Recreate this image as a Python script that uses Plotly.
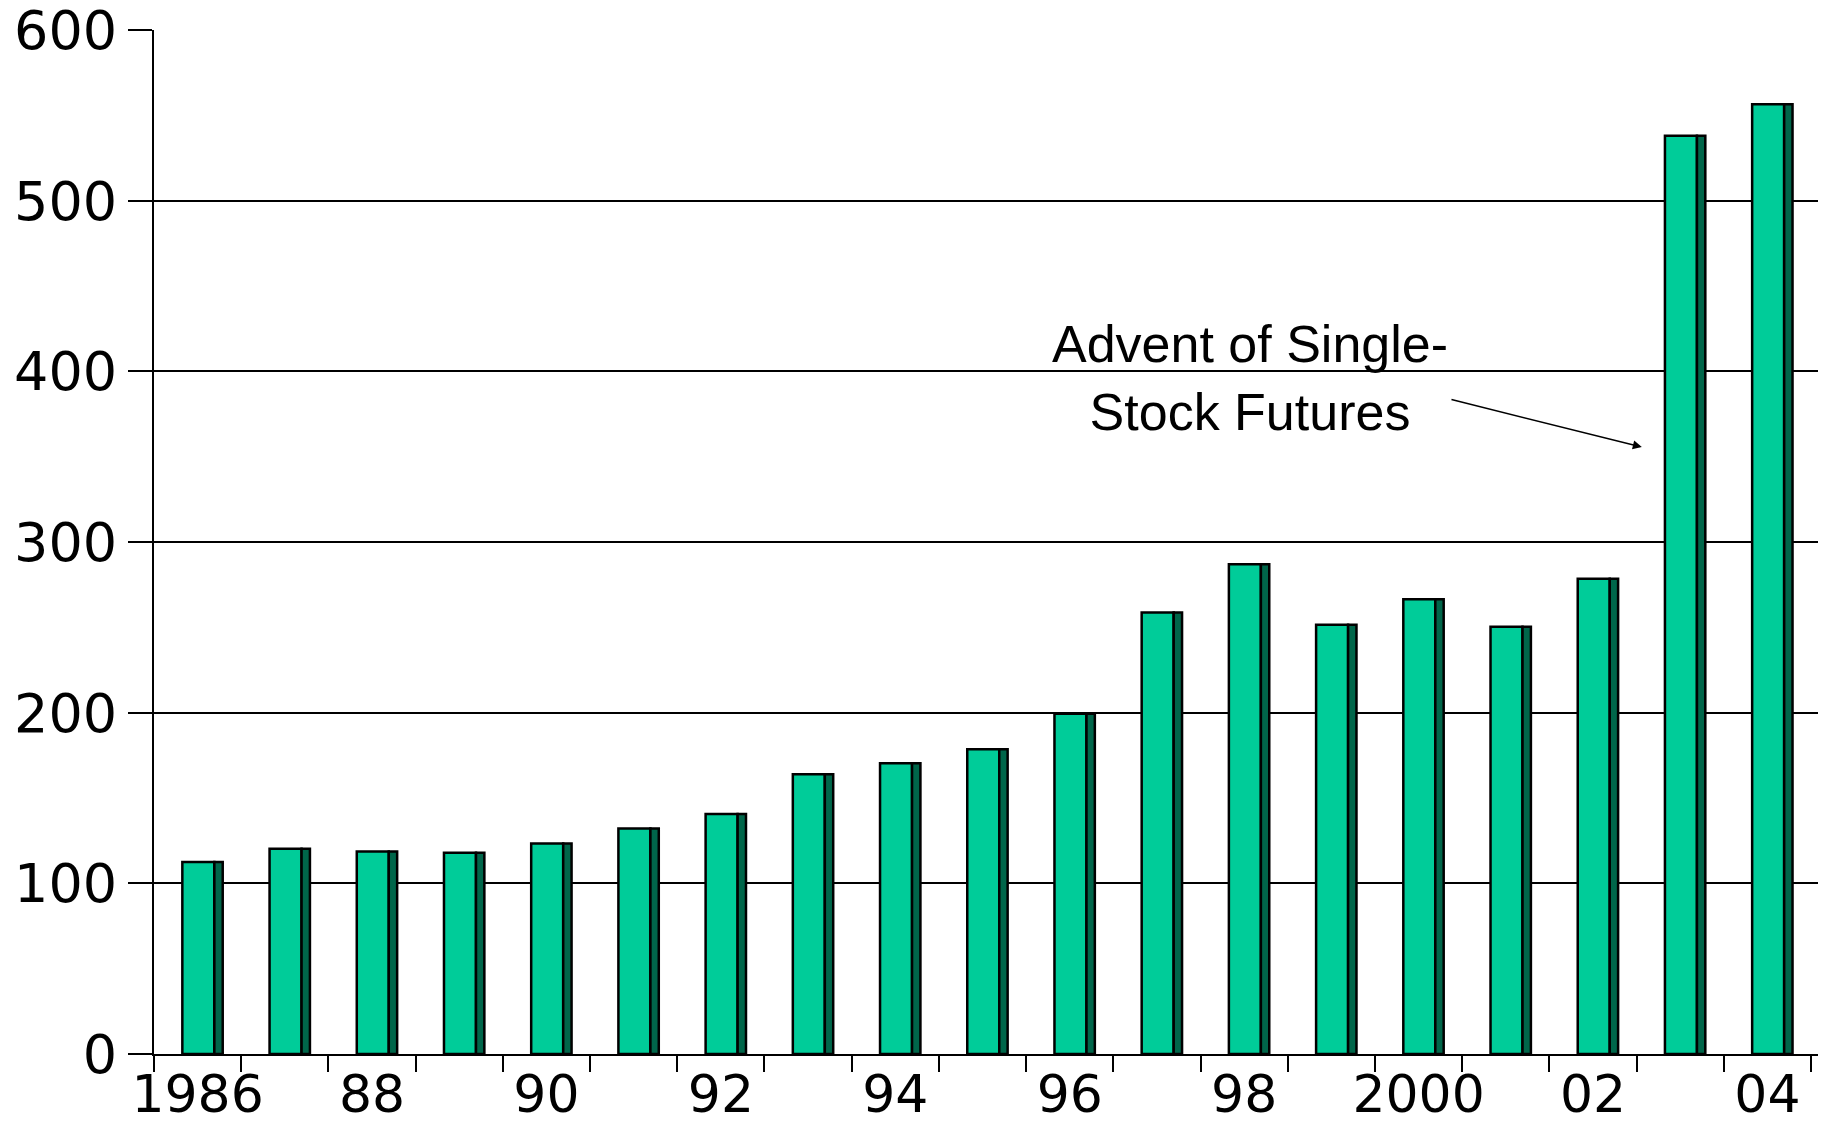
import plotly.graph_objects as go

years = list(range(1986, 2005))
values = [112.5, 120.3, 118.7, 117.9, 123.4, 132.2, 140.6, 163.9, 170.3, 178.5,
          199.3, 258.7, 286.9, 251.5, 266.4, 250.3, 278.5, 538.0, 556.5]
tick_years = [1986, 1988, 1990, 1992, 1994, 1996, 1998, 2000, 2002, 2004]
tick_text = ["1986", "88", "90", "92", "94", "96", "98", "2000", "02", "04"]
y_ticks = [0, 100, 200, 300, 400, 500, 600]
annot_text = "Advent of Single-<br>Stock Futures"

front_color = "#00CC99"
side_color = "#00664A"

fig = go.Figure()
fig.add_trace(go.Bar(
    x=years, y=values, width=0.367, offset=-0.175,
    marker=dict(color=front_color, line=dict(color="black", width=2.5)),
    showlegend=False, hoverinfo="x+y",
))
fig.add_trace(go.Bar(
    x=years, y=values, width=0.096, offset=0.192,
    marker=dict(color=side_color, line=dict(color="black", width=2.5)),
    showlegend=False, hoverinfo="skip",
))

# page body has an 8px margin, so the figure is sized to fit the window
fig.update_layout(
    width=1818, height=1117,
    margin=dict(l=146, r=8, t=22, b=71),
    paper_bgcolor="white", plot_bgcolor="white",
    barmode="overlay",
    xaxis=dict(
        range=[1985.5, 2004.58], automargin=False,
        tickmode="array", tickvals=tick_years, ticktext=tick_text,
        ticks="", showgrid=False, zeroline=False,
        showline=True, linecolor="black", linewidth=2,
        tickfont=dict(family="DejaVu Sans", size=52, color="black"),
        ticklabelstandoff=-6, ticklabeloverflow="allow",
        minor=dict(tickmode="array", tickvals=[y - 0.5 for y in years] + [2004.5],
                   ticks="outside", ticklen=16, tickwidth=2, tickcolor="black",
                   showgrid=False),
    ),
    yaxis=dict(
        range=[0, 600], automargin=False, tickmode="array", tickvals=y_ticks,
        ticks="outside", ticklen=24, tickwidth=2, tickcolor="black",
        showgrid=True, gridcolor="black", gridwidth=2,
        zeroline=False, showline=True, linecolor="black", linewidth=2,
        tickfont=dict(family="DejaVu Sans", size=54, color="black"),
        ticklabelstandoff=0, ticklabeloverflow="allow",
    ),
    annotations=[
        dict(x=1998.07, y=396, xref="x", yref="y", text=annot_text,
             showarrow=False, align="center",
             font=dict(family="Liberation Sans", size=52, color="black")),
        dict(x=2002.56, y=355.6, xref="x", yref="y", ax=2000.36, ay=383.7,
             axref="x", ayref="y", text="", showarrow=True,
             arrowhead=2, arrowsize=1.2, arrowwidth=1.5, arrowcolor="black"),
    ],
)

fig.write_html("out.html")
